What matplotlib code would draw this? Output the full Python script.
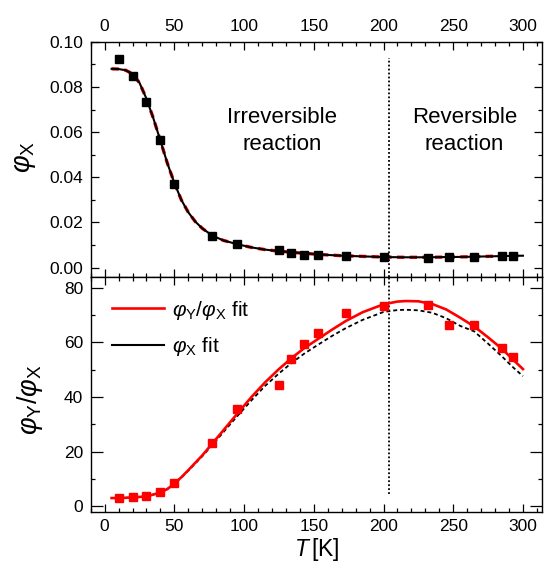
import matplotlib
matplotlib.use("Agg")
import matplotlib.pyplot as plt
from matplotlib.ticker import MultipleLocator, FormatStrFormatter

plt.rcParams['font.family'] = ['Liberation Sans', 'DejaVu Sans']
plt.rcParams['mathtext.fontset'] = 'custom'
plt.rcParams['mathtext.rm'] = 'Liberation Sans'
plt.rcParams['mathtext.it'] = 'Liberation Sans:italic'
plt.rcParams['mathtext.bf'] = 'Liberation Sans:bold'

# measured points
T_meas = [10, 20, 30, 40, 50, 77, 95, 125, 134, 143, 153, 173, 200, 232, 247, 265, 285, 293]
phi_x = [0.0923, 0.0848, 0.0734, 0.0563, 0.0371, 0.0139, 0.0103, 0.0077, 0.0065, 0.0058,
         0.0055, 0.0050, 0.0046, 0.0043, 0.0047, 0.0046, 0.0050, 0.0050]
ratio = [3.0, 3.3, 3.9, 5.3, 8.5, 23.1, 35.5, 44.3, 54.0, 59.3,
         63.3, 70.7, 73.4, 73.6, 66.5, 66.2, 57.8, 54.7]

# fit curves
T_fit_x = [5, 10, 15, 20, 25, 30, 35, 40, 45, 50, 55, 60, 65, 70, 77, 85, 95, 105, 115,
           125, 140, 155, 170, 185, 200, 215, 230, 245, 260, 275, 290, 300]
phi_x_fit = [0.0880, 0.0879, 0.0874, 0.0858, 0.0818, 0.0748, 0.0660, 0.0562, 0.0462, 0.0375,
             0.0300, 0.0245, 0.0204, 0.0174, 0.0143, 0.0121, 0.0104, 0.0090, 0.0080,
             0.0073, 0.0065, 0.0058, 0.0053, 0.0050, 0.0047, 0.0046, 0.0046, 0.0047,
             0.0048, 0.0050, 0.0052, 0.0053]

T_fit_r = [5, 10, 20, 30, 40, 45, 50, 55, 60, 70, 77, 85, 95, 105, 115, 125, 134, 143, 153,
           163, 173, 185, 200, 210, 216, 225, 235, 245, 255, 265, 275, 285, 293, 300]
ratio_fit = [3.0, 3.0, 3.2, 3.6, 5.0, 6.3, 8.3, 10.6, 13.2, 18.6, 22.8, 27.7, 33.8, 39.8,
             45.3, 50.2, 54.2, 57.8, 61.2, 64.6, 67.8, 71.0, 73.9, 74.9, 75.1, 75.0, 74.0,
             72.0, 69.0, 65.8, 61.8, 57.6, 53.6, 50.2]
ratio_xfit = [3.0, 3.0, 3.2, 3.6, 5.0, 6.3, 8.3, 10.5, 13.0, 18.3, 22.3, 27.0, 32.9, 38.6,
              44.0, 48.6, 52.4, 55.8, 59.1, 62.3, 65.2, 68.2, 71.1, 71.8, 71.9, 71.7, 70.8,
              68.8, 66.0, 64.0, 59.5, 54.8, 50.8, 47.6]

T_border = 204

fig = plt.figure(figsize=(5.44, 5.63), dpi=100)
ax1 = fig.add_axes([0.1667, 0.5085, 0.8305, 0.4174])
ax2 = fig.add_axes([0.1667, 0.0911, 0.8305, 0.4174])

# top panel
ax1.plot(T_fit_x, phi_x_fit, color='red', lw=2.4, linestyle=(0, (2.2, 1.6)), zorder=2)
lx, = ax1.plot(T_fit_x, phi_x_fit, color='black', lw=1.5, zorder=3)
ax1.plot(T_meas, phi_x, 's', color='black', ms=6.2, zorder=4)
ax1.plot([T_border, T_border], [-0.004, 0.0927], color='black', lw=1.3,
         linestyle=(0, (1, 1.2)))
ax1.text(127, 0.0605, 'Irreversible\nreaction', ha='center', va='center',
         fontsize=16, linespacing=1.35)
ax1.text(258, 0.0605, 'Reversible\nreaction', ha='center', va='center',
         fontsize=16, linespacing=1.35)
ax1.set_xlim(-10, 314)
ax1.set_ylim(-0.004, 0.10)
ax1.set_ylabel(r'$\varphi_{\rm X}$', fontsize=19.5)
ax1.yaxis.set_label_coords(-0.117, 0.51)
ax1.yaxis.set_major_locator(MultipleLocator(0.02))
ax1.yaxis.set_minor_locator(MultipleLocator(0.01))
ax1.yaxis.set_major_formatter(FormatStrFormatter('%.2f'))

# bottom panel
ax2.plot(T_fit_r, ratio_xfit, color='black', lw=1.3, linestyle=(0, (2.2, 1.6)), zorder=2)
lr, = ax2.plot(T_fit_r, ratio_fit, color='red', lw=1.9, zorder=3)
ax2.plot(T_meas, ratio, 's', color='red', ms=6.2, zorder=4)
ax2.plot([T_border, T_border], [4.4, 84], color='black', lw=1.3,
         linestyle=(0, (1, 1.2)))
ax2.set_xlim(-10, 314)
ax2.set_ylim(-2, 84)
ax2.set_ylabel(r'$\varphi_{\rm Y}/\varphi_{\rm X}$', fontsize=19.5)
ax2.yaxis.set_label_coords(-0.101, 0.475)
ax2.set_xlabel(r'$T\,$[K]', fontsize=16.5, labelpad=1)
ax2.yaxis.set_major_locator(MultipleLocator(20))
ax2.yaxis.set_minor_locator(MultipleLocator(10))
ax2.legend([lr, lx], [r'$\varphi_{\rm Y}/\varphi_{\rm X}$ fit', r'$\varphi_{\rm X}$ fit'],
           loc='upper left', bbox_to_anchor=(0.0155, 0.9685), frameon=False, fontsize=15,
           handlelength=2.5, handletextpad=0.35, labelspacing=0.64, borderaxespad=0.3)

for ax in (ax1, ax2):
    ax.xaxis.set_major_locator(MultipleLocator(50))
    ax.xaxis.set_minor_locator(MultipleLocator(10))
    ax.tick_params(which='both', direction='in', top=True, right=True, width=0.9,
                   labelsize=12.5, pad=5.5)
    ax.tick_params(which='major', length=5.8)
    ax.tick_params(which='minor', length=3.2)
    for s in ax.spines.values():
        s.set_linewidth(1.0)

ax1.tick_params(axis='x', labeltop=True, labelbottom=False)
ax2.tick_params(axis='y', which='major', length=8.5)

fig.savefig('out.png', dpi=100)
